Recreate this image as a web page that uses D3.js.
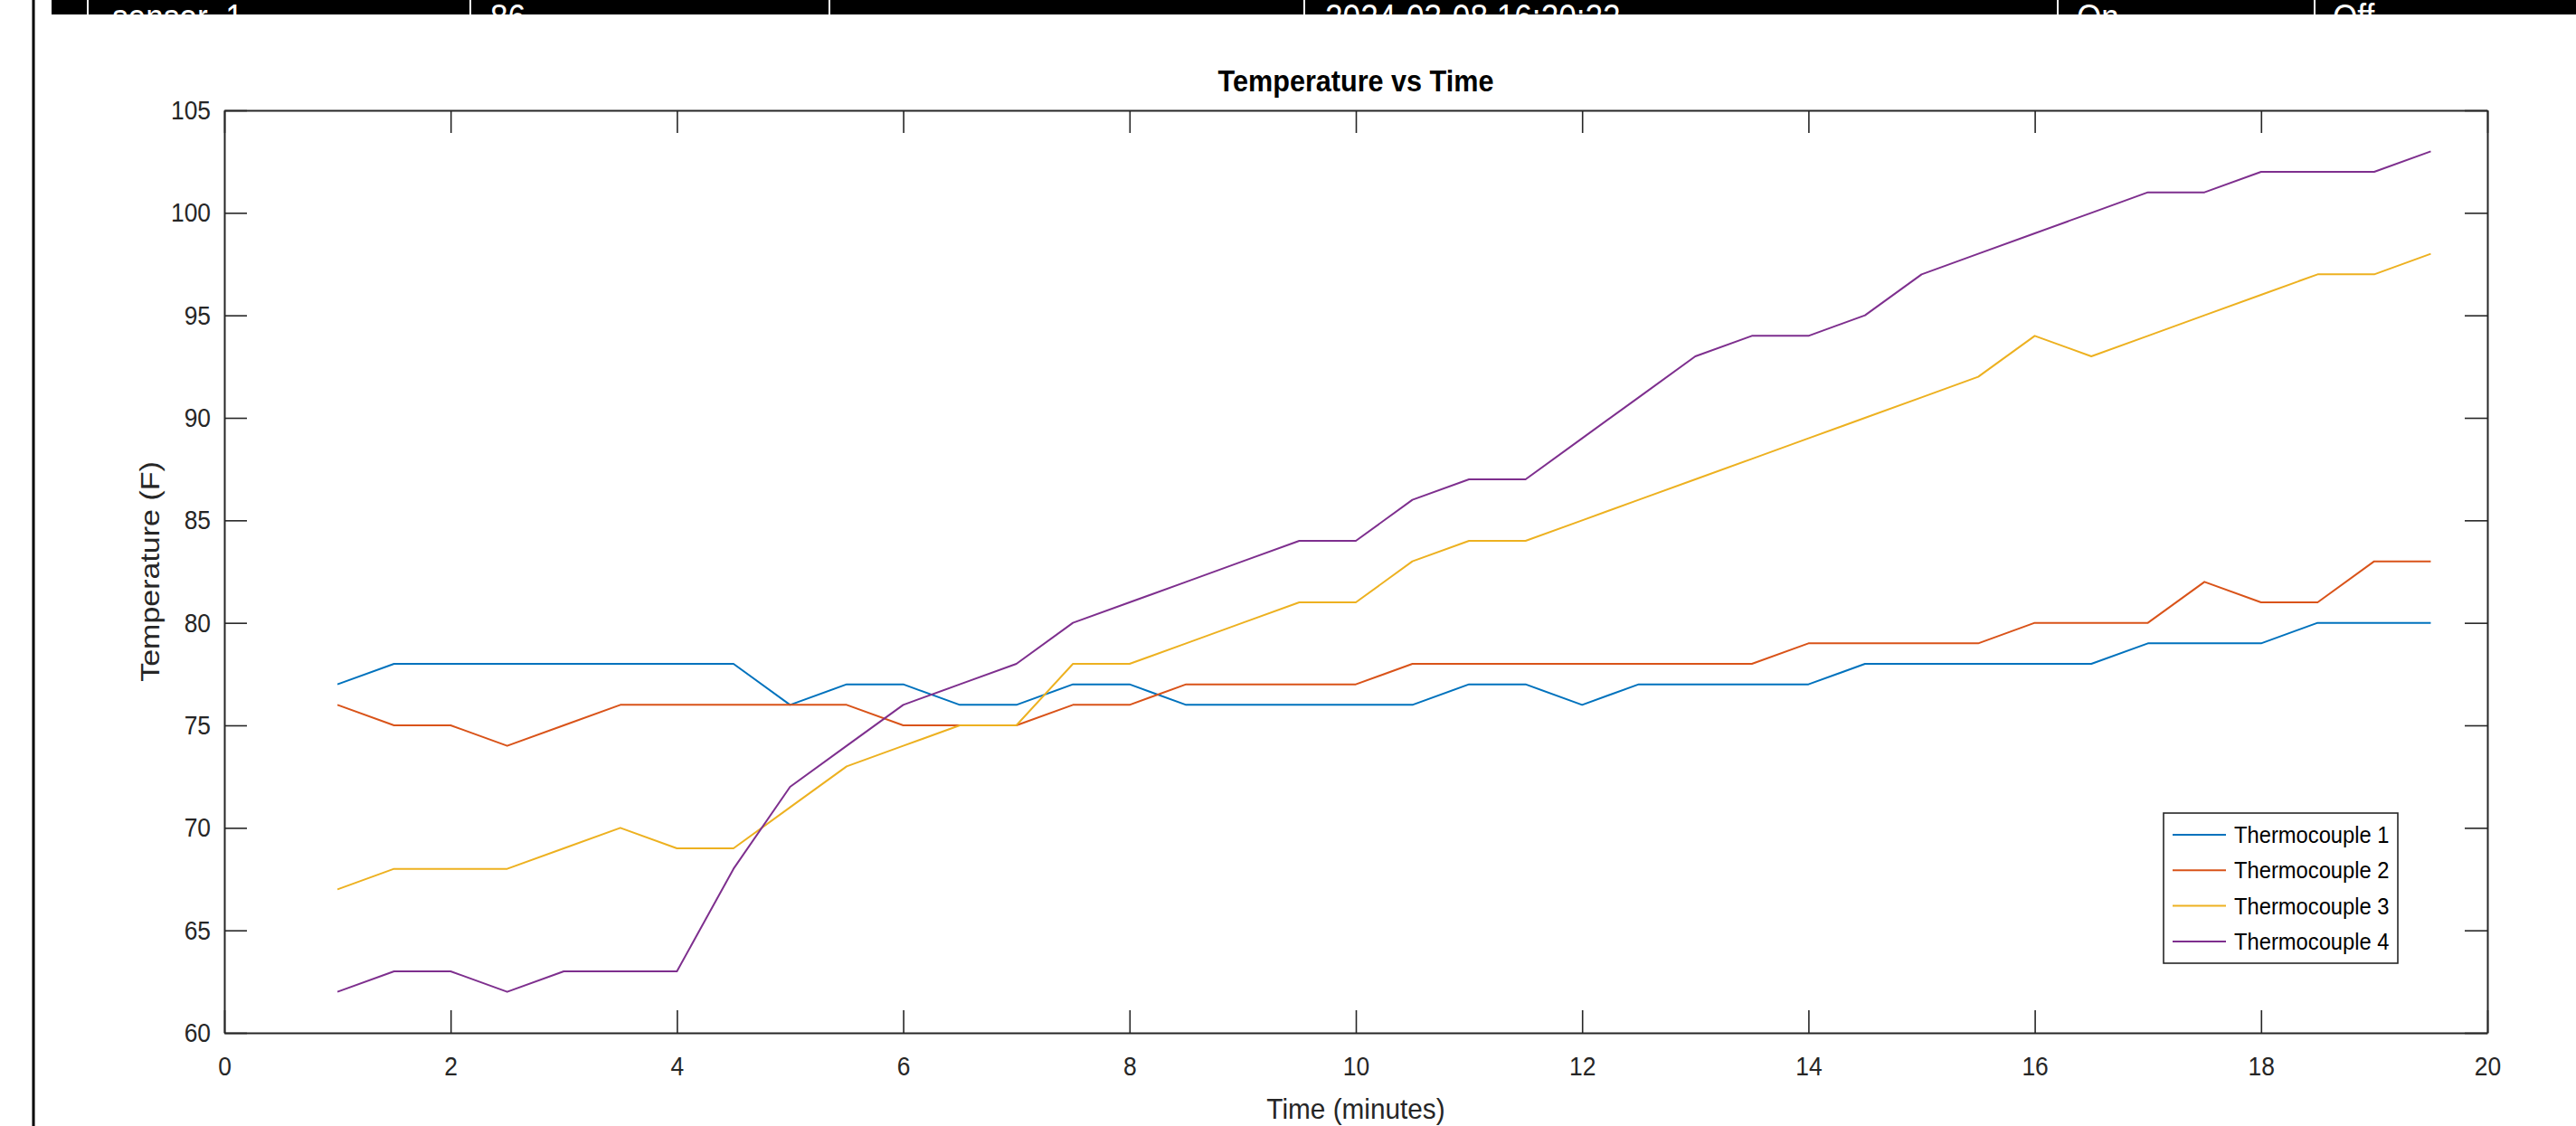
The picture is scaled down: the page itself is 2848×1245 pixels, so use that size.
<!DOCTYPE html>
<html>
<head>
<meta charset="utf-8">
<script src="https://cdn.jsdelivr.net/npm/d3@7"></script>
<style>
  body { margin: 0; background: #fff; }
  svg { display: block; }
  text { font-family: "Liberation Sans", Arial, sans-serif; }
</style>
</head>
<body>
<div id="chart"></div>
<script>
// time in minutes
var times = [1, 1.5, 2, 2.5, 3, 3.5, 4, 4.5, 5, 5.5, 6, 6.5, 7, 7.5, 8, 8.5, 9, 9.5, 10,
    10.5, 11, 11.5, 12, 12.5, 13, 13.5, 14, 14.5, 15, 15.5, 16, 16.5, 17, 17.5, 18, 18.5, 19, 19.5];

var tc1 = [77, 78, 78, 78, 78, 78, 78, 78, 76, 77, 77, 76, 76, 77, 77, 76, 76, 76, 76,
    76, 77, 77, 76, 77, 77, 77, 77, 78, 78, 78, 78, 78, 79, 79, 79, 80, 80, 80];
var tc2 = [76, 75, 75, 74, 75, 76, 76, 76, 76, 76, 75, 75, 75, 76, 76, 77, 77, 77, 77,
    78, 78, 78, 78, 78, 78, 78, 79, 79, 79, 79, 80, 80, 80, 82, 81, 81, 83, 83];
var tc3 = [67, 68, 68, 68, 69, 70, 69, 69, 71, 73, 74, 75, 75, 78, 78, 79, 80, 81, 81,
    83, 84, 84, 85, 86, 87, 88, 89, 90, 91, 92, 94, 93, 94, 95, 96, 97, 97, 98];
var tc4 = [62, 63, 63, 62, 63, 63, 63, 68, 72, 74, 76, 77, 78, 80, 81, 82, 83, 84, 84,
    86, 87, 87, 89, 91, 93, 94, 94, 95, 97, 98, 99, 100, 101, 101, 102, 102, 102, 103];

var seriesNames = ["Thermocouple 1", "Thermocouple 2", "Thermocouple 3", "Thermocouple 4"];
var seriesColors = ["#0072BD", "#D95319", "#EDB120", "#7E2F8E"];

var xTicks = [0, 2, 4, 6, 8, 10, 12, 14, 16, 18, 20];
var yTicks = [60, 65, 70, 75, 80, 85, 90, 95, 100, 105];

// the strip of table cut off at the top of the screenshot
var rowCells = ["sensor_1", "86", "2024-03-08 16:20:22", "On", "Off"];
var rowCellX = [124, 542, 1465, 2296, 2579];
var rowSepX = [97, 520, 917, 1442, 2275, 2559];

var width = 2848, height = 1245;
var axisColor = "#262626";

var svg = d3.select("#chart").append("svg")
    .attr("width", width)
    .attr("height", height);

svg.append("rect").attr("width", width).attr("height", height).attr("fill", "#fff");

// ---- top bar + left border ----
svg.append("clipPath").attr("id", "barClip")
    .append("rect").attr("x", 0).attr("y", 0).attr("width", width).attr("height", 16);

svg.append("rect")
    .attr("x", 57).attr("y", 0)
    .attr("width", width - 57).attr("height", 16)
    .attr("fill", "#000");

svg.selectAll(".sep").data(rowSepX).enter().append("line")
    .attr("class", "sep")
    .attr("x1", function (d) { return d; }).attr("x2", function (d) { return d; })
    .attr("y1", 0).attr("y2", 16)
    .attr("stroke", "#fff").attr("stroke-width", 2);

var barText = svg.append("g").attr("clip-path", "url(#barClip)");
barText.selectAll("text").data(rowCells).enter().append("text")
    .attr("transform", function (d, i) { return "translate(" + rowCellX[i] + ",33) scale(0.88,1)"; })
    .attr("fill", "#fff")
    .attr("font-size", 40)
    .text(function (d) { return d; });

svg.append("line")
    .attr("x1", 37).attr("x2", 37).attr("y1", 0).attr("y2", height)
    .attr("stroke", "#000").attr("stroke-width", 3);

// ---- plot area ----
var x = d3.scaleLinear().domain([0, 20]).range([248, 2750]);
var y = d3.scaleLinear().domain([60, 105]).range([1142, 122]);

function styleAxis(g) {
    g.select(".domain").attr("stroke", axisColor).attr("stroke-width", 2);
    g.selectAll(".tick line").attr("stroke", axisColor).attr("stroke-width", 1.6);
    g.selectAll(".tick text").attr("fill", axisColor).attr("font-size", 30)
        .attr("font-family", "'Liberation Sans', Arial, sans-serif");
}

var xAxis = svg.append("g")
    .attr("transform", "translate(0," + y(60) + ")")
    .call(d3.axisBottom(x).tickValues(xTicks).tickSizeInner(-25).tickSizeOuter(0).tickPadding(26));
styleAxis(xAxis);
xAxis.selectAll(".tick text").attr("transform", "scale(0.88,1)");

var xAxisTop = svg.append("g")
    .attr("transform", "translate(0," + y(105) + ")")
    .call(d3.axisTop(x).tickValues(xTicks).tickSizeInner(-25).tickSizeOuter(0).tickFormat(""));
styleAxis(xAxisTop);

var yAxis = svg.append("g")
    .attr("transform", "translate(" + x(0) + ",0)")
    .call(d3.axisLeft(y).tickValues(yTicks).tickSizeInner(-25).tickSizeOuter(0).tickPadding(17));
styleAxis(yAxis);
yAxis.selectAll(".tick text").attr("transform", "scale(0.88,1)");

var yAxisRight = svg.append("g")
    .attr("transform", "translate(" + x(20) + ",0)")
    .call(d3.axisRight(y).tickValues(yTicks).tickSizeInner(-25).tickSizeOuter(0).tickFormat(""));
styleAxis(yAxisRight);

// ---- lines ----
var allSeries = [tc1, tc2, tc3, tc4];

var line = d3.line()
    .x(function (d) { return x(d[0]); })
    .y(function (d) { return y(d[1]); });

svg.append("g").selectAll("path")
    .data(allSeries)
    .enter().append("path")
    .attr("d", function (s) { return line(times.map(function (t, i) { return [t, s[i]]; })); })
    .attr("fill", "none")
    .attr("stroke", function (d, i) { return seriesColors[i]; })
    .attr("stroke-width", 2)
    .attr("stroke-linejoin", "round");

// ---- labels ----
svg.append("text")
    .attr("transform", "translate(1499,101) scale(0.9,1)")
    .attr("text-anchor", "middle")
    .attr("font-size", 34)
    .attr("font-weight", "bold")
    .attr("fill", "#000")
    .text("Temperature vs Time");

svg.append("text")
    .attr("transform", "translate(1499,1237) scale(0.93,1)")
    .attr("text-anchor", "middle")
    .attr("font-size", 32)
    .attr("fill", axisColor)
    .text("Time (minutes)");

svg.append("text")
    .attr("transform", "translate(176," + ((y(60) + y(105)) / 2) + ") rotate(-90) scale(1,0.88)")
    .attr("text-anchor", "middle")
    .attr("font-size", 34)
    .attr("fill", axisColor)
    .text("Temperature (F)");

// ---- legend ----
var legend = svg.append("g").attr("transform", "translate(2392,899)");

legend.append("rect")
    .attr("width", 259).attr("height", 166)
    .attr("fill", "#fff")
    .attr("stroke", axisColor).attr("stroke-width", 1.6);

var item = legend.selectAll(".item")
    .data(seriesNames)
    .enter().append("g")
    .attr("class", "item")
    .attr("transform", function (d, i) { return "translate(0," + (24 + i * 39.3) + ")"; });

item.append("line")
    .attr("x1", 10).attr("x2", 69)
    .attr("stroke", function (d, i) { return seriesColors[i]; })
    .attr("stroke-width", 2);

item.append("text")
    .attr("transform", "translate(78,9) scale(0.95,1)")
    .attr("font-size", 25)
    .attr("fill", "#000")
    .text(function (d) { return d; });
</script>
</body>
</html>
